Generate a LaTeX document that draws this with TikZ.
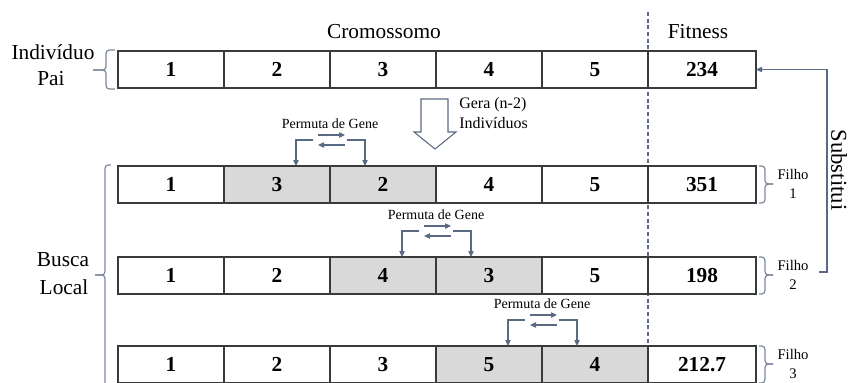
\documentclass[tikz,border=0pt]{standalone}
\usepackage{fontspec}
\setmainfont{Liberation Serif}
\usetikzlibrary{arrows.meta}
\definecolor{slate}{HTML}{5B6A84}
\definecolor{cellgray}{HTML}{D9D9D9}
\definecolor{border}{HTML}{3A3A3A}
\tikzset{
  cell/.style={draw=border, line width=0.9pt, minimum height=27.75pt, minimum width=79.5pt,
    inner sep=0pt, outer sep=0pt, font=\fontsize{16}{18}\selectfont\bfseries, anchor=north west},
  fitcell/.style={cell, minimum width=81pt},
  plain/.style={fill=white},
  shaded/.style={fill=cellgray},
  conn/.style={draw=slate, line width=0.9pt},
  arr/.style={conn, -{Triangle[length=4.5pt,width=4pt]}},
  lbl/.style={font=\fontsize{16}{18}\selectfont, inner sep=0pt},
  smalllbl/.style={font=\fontsize{10.5}{12}\selectfont, inner sep=0pt},
  geralbl/.style={font=\fontsize{12}{14}\selectfont, inner sep=0pt, anchor=west},
  filholbl/.style={font=\fontsize{11}{14}\selectfont, inner sep=0pt, align=center},
  brc/.style={draw=slate!80, line width=0.9pt, rounded corners=2.5pt},
}
\newcommand\permutagene[3]{% #1 = boundary x, #2 = row top y, #3 = id
  \node[smalllbl] (pt#3) at (#1,#2-42) {Permuta de Gene};
  \coordinate (pla#3) at (#1-17,#2-26);
  \coordinate (pra#3) at (#1+17,#2-26);
  \coordinate (ua#3) at (#1-12,#2-31);
  \coordinate (ub#3) at (#1+15,#2-31);
  \coordinate (la#3) at (#1+15,#2-21);
  \coordinate (lb#3) at (#1-12,#2-21);
  \coordinate (tl#3) at (#1-34,#2);
  \coordinate (tr#3) at (#1+35,#2);
  \draw[arr] (pla#3) -| (tl#3);
  \draw[arr] (pra#3) -| (tr#3);
  \draw[arr] (ua#3) -- (ub#3);
  \draw[arr] (la#3) -- (lb#3);
}
\begin{document}
\begin{tikzpicture}[x=0.75pt,y=-0.75pt]
\useasboundingbox (0,0) rectangle (848,382);
\clip (0,0) rectangle (848,382);

% dashed separator
\draw[draw=slate, line width=0.8pt, dash pattern=on 3pt off 2pt] (648,12) -- (648,350);

% headers
\node[lbl] (crom) at (384,32) {Cromossomo};
\node[lbl] (fit) at (698,32) {Fitness};

% row 0: parent
\foreach \v/\s [count=\i from 0] in {1/plain,2/plain,3/plain,4/plain,5/plain}
  \node[cell,\s] (a\i) at ({118+106*\i},51) {\v};
\node[fitcell,plain] (afit) at (648,51) {234};

% row 1
\foreach \v/\s [count=\i from 0] in {1/plain,3/shaded,2/shaded,4/plain,5/plain}
  \node[cell,\s] (b\i) at ({118+106*\i},166) {\v};
\node[fitcell,plain] (bfit) at (648,166) {351};

% row 2
\foreach \v/\s [count=\i from 0] in {1/plain,2/plain,4/shaded,3/shaded,5/plain}
  \node[cell,\s] (c\i) at ({118+106*\i},257) {\v};
\node[fitcell,plain] (cfit) at (648,257) {198};

% row 3
\foreach \v/\s [count=\i from 0] in {1/plain,2/plain,3/plain,5/shaded,4/shaded}
  \node[cell,\s] (d\i) at ({118+106*\i},346) {\v};
\node[fitcell,plain] (dfit) at (648,346) {212.7};

% left labels and braces
\node[lbl] (ind) at (53,52) {Indivíduo};
\node[lbl] (pai) at (51,79) {Pai};
\draw[brc] (115,50) -- (106,50) -- (106,70) -- (93,70);
\draw[brc] (93,70) -- (106,70) -- (106,89) -- (115,89);

\node[lbl] (busca) at (63,260) {Busca};
\node[lbl] (local) at (64,287) {Local};
\draw[brc] (111,165) -- (105,165) -- (105,275) -- (95,275);
\draw[brc] (95,275) -- (105,275) -- (105,390);

% hollow arrow
\draw[draw=slate, line width=0.8pt, fill=white]
  (421,99) -- (448,99) -- (448,132) -- (456,132) -- (435,149) -- (414,132) -- (421,132) -- cycle;
\node[geralbl] (gera1) at (459,105) {Gera (n-2)};
\node[geralbl] (gera2) at (459,123) {Indivíduos};

% gene swaps
\permutagene{330}{166}{1}
\permutagene{436}{257}{2}
\permutagene{542}{346}{3}

% filho braces
\foreach \t/\n in {166/1,257/2,346/3}{
  \draw[brc] (759,\t) -- (765,\t) -- (765,\t+18) -- (773,\t+18);
  \draw[brc] (773,\t+18) -- (765,\t+18) -- (765,\t+37) -- (759,\t+37);
  \node[filholbl] (filho\n) at (793,\t+18) {Filho\\\n};
}

% substitui connector
\coordinate (sb) at (819,272);
\draw[arr] (sb) -- (827,272) |- (afit.east);
\node[lbl, font=\fontsize{17}{18}\selectfont, rotate=-90] (subst) at (839,170) {Substitui};
\end{tikzpicture}
\end{document}
